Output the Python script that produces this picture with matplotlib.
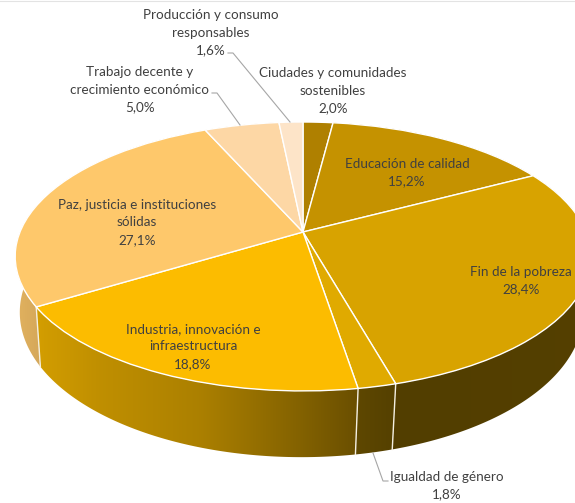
"""3D-looking pie: ODS shares, drawn with ax.pie and a projective map for the tilt."""
import numpy as np
import matplotlib
matplotlib.use("Agg")
import matplotlib.pyplot as plt
from matplotlib.patches import Polygon
from matplotlib.transforms import Transform

plt.rcParams["font.family"] = ["Lato", "DejaVu Sans"]

# clockwise from 12 o'clock
NAMES = ["Ciudades y comunidades\nsostenibles", "Educación de calidad", "Fin de la pobreza",
         "Igualdad de género", "Industria, innovación e\ninfraestructura",
         "Paz, justicia e instituciones\nsólidas", "Trabajo decente y\ncrecimiento económico",
         "Producción y consumo\nresponsables"]
VALUES = [2.0, 15.2, 28.4, 1.8, 18.8, 27.1, 5.0, 1.6]
VALUE_LABELS = ["2,0%", "15,2%", "28,4%", "1,8%", "18,8%", "27,1%", "5,0%", "1,6%"]
COLORS = ["#AF8000", "#C59200", "#D8A300", "#E0AA00", "#FCBC00", "#FEC86B", "#FDD7A5", "#FDE4C8"]
LABEL_POS = [(333, 67), (407, 158), (521, 266), (447, 471), (193, 323), (137, 199), (140, 66), (211, 9)]

K = 0.182  # perspective strength


class Tilt(Transform):
    """unit disc -> picture pixels, front of the pie is nearer so it opens up"""
    input_dims = output_dims = 2

    def __init__(self, cx, cy, a, b):
        super().__init__()
        self.cx, self.cy, self.a, self.b = cx, cy, a, b

    def transform_non_affine(self, values):
        values = np.asarray(values)
        den = 1 + K * values[:, 1]
        return np.column_stack([self.cx + self.a * values[:, 0] / den,
                                self.cy - self.b * values[:, 1] / den])


top = Tilt(303, 232, 283, 130)
low = Tilt(301.5, 286, 277, 140)


def ring(tr, deg):
    rad = np.radians(deg)
    return tr.transform_non_affine(np.column_stack([np.cos(rad), np.sin(rad)]))


def rim_shade(x):
    return np.interp(x, [20, 43, 100, 200, 300, 357, 393, 575],
                     [0.88, 0.83, 0.76, 0.68, 0.52, 0.42, 0.38, 0.39])


fig = plt.figure(figsize=(5.75, 5.03), dpi=100)
ax = fig.add_axes([0, 0, 1, 1])
wedges, _ = ax.pie(VALUES, colors=COLORS, startangle=90, counterclock=False,
                   wedgeprops=dict(edgecolor="white", linewidth=1.0, zorder=3))
ax.set_aspect("auto")
ax.axis("off")

# rim: horizontal gradient per slice, clipped to the slice's side wall
grad_x = np.arange(0, 600)
for w, col in zip(wedges, COLORS):
    w.set_transform(top + ax.transData)
    deg = np.linspace(w.theta1, w.theta2, 200)
    wall = Polygon(np.vstack([ring(top, deg), ring(low, deg)[::-1]]), closed=True,
                   transform=ax.transData, facecolor="none", edgecolor="none")
    ax.add_patch(wall)
    rgb = np.array(matplotlib.colors.to_rgb(col))
    strip = (rgb[None, :] * rim_shade(grad_x)[:, None])[None, :, :]
    im = ax.imshow(strip, extent=(0, 600, 500, 0), aspect="auto", zorder=1,
                   interpolation="bilinear")
    im.set_clip_path(wall)

ax.set_xlim(0, 575)
ax.set_ylim(503, 0)

# slice separators on the visible rim
for w in wedges:
    if np.sin(np.radians(w.theta2)) < -0.2:
        a, b = ring(top, [w.theta2])[0], ring(low, [w.theta2])[0]
        ax.plot([a[0], b[0]], [a[1], b[1]], color="#F4EFE2", lw=1.0, zorder=2)

# leader lines
for xs, ys in [([228, 233, 290], [53, 53, 122]),
               ([212, 217, 240], [93, 93, 125]),
               ([373, 383, 388], [453, 481, 481])]:
    ax.plot(xs, ys, color="#A6A6A6", lw=0.8, zorder=4)

# thin grey strip along the top edge of the screenshot
ax.axhline(0.5, color="#E3E3E3", lw=0.8, zorder=0)

for name, val, (x, y) in zip(NAMES, VALUE_LABELS, LABEL_POS):
    ax.text(x, y, name + "\n" + val, ha="center", va="top", fontsize=9.7, color="#404040",
            linespacing=1.55, zorder=5)

fig.savefig("out.png", dpi=100)
